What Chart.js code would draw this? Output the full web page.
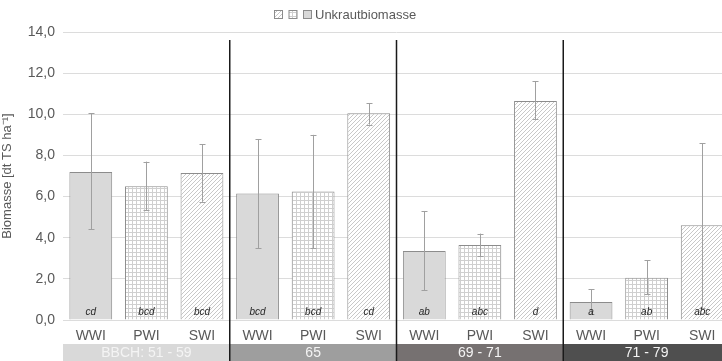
<!DOCTYPE html>
<html>
<head>
<meta charset="utf-8">
<script src="https://cdn.jsdelivr.net/npm/chart.js@4/dist/chart.umd.min.js"></script>
<style>
  html, body { margin: 0; padding: 0; background: #fff; overflow: hidden; }
  #wrap { width: 730px; height: 361px; position: relative; }
</style>
</head>
<body>
<div id="wrap"><canvas id="c" width="730" height="361"></canvas></div>
<script>
// ---- data ----
const categories = ["WWI","PWI","SWI","WWI","PWI","SWI","WWI","PWI","SWI","WWI","PWI","SWI"];
const treatments = ["WWI","PWI","SWI","WWI","PWI","SWI","WWI","PWI","SWI","WWI","PWI","SWI"];
const groupLabels = ["BBCH: 51 - 59","65","69 - 71","71 - 79"];
const biomass = [7.2, 6.5, 7.15, 6.15, 6.25, 10.05, 3.35, 3.65, 10.65, 0.87, 2.05, 4.6];
const errLow  = [4.4, 5.35, 5.75, 3.5, 3.5, 9.5, 1.45, 3.1, 9.75, 0.3, 1.25, 0.6];
const errHigh = [10.05, 7.7, 8.55, 8.8, 9.0, 10.55, 5.3, 4.2, 11.6, 1.5, 2.9, 8.6];
const letters = ["cd","bcd","bcd","bcd","bcd","cd","ab","abc","d","a","ab","abc"];
const yTicks = [0, 2, 4, 6, 8, 10, 12, 14];
const seriesName = "Unkrautbiomasse";
const axisTitle = "Biomasse [dt TS ha\u207B\u00B9]";

// ---- styles ----
const groupColors = ["#d9d9d9", "#9e9e9e", "#767171", "#4f4f4f"];
const textGray = "#595959";

function makeGridPattern() {
  const c = document.createElement("canvas"); c.width = 4; c.height = 4;
  const x = c.getContext("2d");
  x.fillStyle = "#ffffff"; x.fillRect(0,0,4,4);
  x.fillStyle = "#cfcfcf"; x.fillRect(0,0,4,1); x.fillRect(0,0,1,4);
  return x.createPattern(c, "repeat");
}
function makeHatchPattern() {
  const s = 4;
  const c = document.createElement("canvas"); c.width = s; c.height = s;
  const x = c.getContext("2d");
  x.fillStyle = "#ffffff"; x.fillRect(0,0,s,s);
  x.strokeStyle = "#c8c8c8"; x.lineWidth = 1;
  x.beginPath();
  x.moveTo(0, s); x.lineTo(s, 0);
  x.moveTo(-1, 1); x.lineTo(1, -1);
  x.moveTo(s-1, s+1); x.lineTo(s+1, s-1);
  x.stroke();
  return x.createPattern(c, "repeat");
}
const gridPat = makeGridPattern();
const hatchPat = makeHatchPattern();
const fillFor = t => t === "WWI" ? "#d9d9d9" : (t === "PWI" ? gridPat : hatchPat);

const extrasPlugin = {
  id: "extras",
  afterDatasetsDraw(chart) {
    const ctx = chart.ctx;
    const ys = chart.scales.y;
    const meta = chart.getDatasetMeta(0);
    // error bars
    ctx.save();
    ctx.strokeStyle = "#a0a0a0"; ctx.lineWidth = 1;
    meta.data.forEach((bar, i) => {
      const x = Math.round(bar.x) + 0.5;
      const yl = ys.getPixelForValue(errLow[i]);
      const yh = ys.getPixelForValue(errHigh[i]);
      ctx.beginPath();
      ctx.moveTo(x, yl); ctx.lineTo(x, yh);
      ctx.moveTo(x - 3, Math.round(yh) + 0.5); ctx.lineTo(x + 3, Math.round(yh) + 0.5);
      ctx.moveTo(x - 3, Math.round(yl) + 0.5); ctx.lineTo(x + 3, Math.round(yl) + 0.5);
      ctx.stroke();
    });
    // letters
    ctx.fillStyle = "#262626";
    ctx.font = "italic 10px 'Liberation Sans', Arial, sans-serif";
    ctx.textAlign = "center"; ctx.textBaseline = "middle";
    meta.data.forEach((bar, i) => {
      ctx.fillText(letters[i], bar.x, ys.getPixelForValue(0) - 8);
    });
    ctx.restore();
  },
  afterDraw(chart) {
    const ctx = chart.ctx;
    const xs = chart.scales.x;
    const H = chart.height;
    const step = (xs.getPixelForValue(1) - xs.getPixelForValue(0));
    const bandTop = 344;
    ctx.save();
    for (let g = 0; g < 4; g++) {
      const x0 = xs.getPixelForValue(g * 3) - step / 2;
      const x1 = xs.getPixelForValue(g * 3 + 2) + step / 2;
      ctx.fillStyle = groupColors[g];
      ctx.fillRect(x0, bandTop, x1 - x0, H - bandTop);
      ctx.fillStyle = "#f4f4f4";
      ctx.font = "14px 'Liberation Sans', Arial, sans-serif";
      ctx.textAlign = "center"; ctx.textBaseline = "middle";
      ctx.fillText(groupLabels[g], (x0 + x1) / 2, bandTop + 9);
    }
    // separators
    ctx.strokeStyle = "#1a1a1a"; ctx.lineWidth = 1.5;
    for (let g = 1; g < 4; g++) {
      const x = xs.getPixelForValue(g * 3) - step / 2;
      ctx.beginPath(); ctx.moveTo(x, 40); ctx.lineTo(x, H); ctx.stroke();
    }
    // legend
    const lx = 274, ly = 10, bs = 8;
    ctx.lineWidth = 1; ctx.strokeStyle = "#8c8c8c";
    const fills = [hatchPat, gridPat, "#d9d9d9"];
    fills.forEach((f, k) => {
      const bx = lx + k * 14.5;
      ctx.fillStyle = f;
      ctx.fillRect(bx + 0.5, ly + 0.5, bs, bs);
      ctx.strokeRect(bx + 0.5, ly + 0.5, bs, bs);
    });
    ctx.fillStyle = textGray;
    ctx.font = "13px 'Liberation Sans', Arial, sans-serif";
    ctx.textAlign = "left"; ctx.textBaseline = "middle";
    ctx.fillText(seriesName, lx + 41, ly + 5);
    ctx.restore();
  }
};

new Chart(document.getElementById("c"), {
  type: "bar",
  data: {
    labels: categories,
    datasets: [{
      label: seriesName,
      data: biomass,
      backgroundColor: treatments.map(fillFor),
      borderColor: "#8c8c8c",
      borderWidth: 1,
      categoryPercentage: 1.0,
      barPercentage: 0.77
    }]
  },
  options: {
    responsive: false,
    animation: false,
    layout: { padding: { top: 32, right: 0, left: 0, bottom: 0 } },
    plugins: { legend: { display: false }, tooltip: { enabled: false } },
    scales: {
      x: {
        grid: { display: false, drawTicks: false },
        border: { display: false },
        ticks: { color: textGray, font: { size: 14, family: "'Liberation Sans', Arial, sans-serif" }, padding: 8, maxRotation: 0, autoSkip: false },
        afterFit(s) { s.height = 41; }
      },
      y: {
        min: 0, max: 14,
        afterBuildTicks(s) { s.ticks = yTicks.map(v => ({ value: v })); },
        grid: { color: "#dcdcdc", drawTicks: false },
        border: { display: false },
        ticks: {
          color: textGray, padding: 8,
          font: { size: 14, family: "'Liberation Sans', Arial, sans-serif" },
          callback: v => Number(v).toFixed(1).replace(".", ",")
        },
        title: { display: true, text: axisTitle, color: textGray, font: { size: 13, family: "'Liberation Sans', Arial, sans-serif" }, padding: 0 },
        afterFit(s) { s.width = 63; }
      }
    }
  },
  plugins: [extrasPlugin]
});
</script>
</body>
</html>
